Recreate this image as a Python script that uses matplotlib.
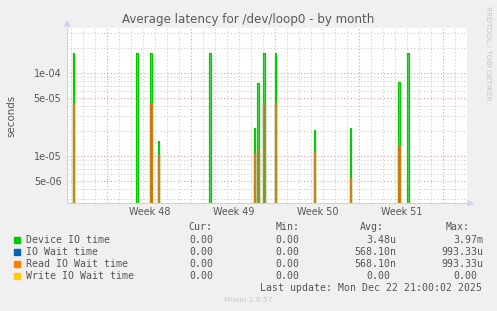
import numpy as np
import matplotlib
matplotlib.use("Agg")
import matplotlib.pyplot as plt
from matplotlib.ticker import FixedLocator, NullFormatter

# ---- data (x in days from graph start, 2h bins) ----
spike_days = [0.53, 5.85, 7.02, 7.61, 11.93, 15.61, 15.94, 16.44, 17.36,
              20.61, 23.61, 27.69, 28.44]
device_io = [1.71e-4, 1.71e-4, 1.71e-4, 1.50e-5, 1.71e-4, 2.16e-5, 7.6e-5,
             1.71e-4, 1.71e-4, 2.04e-5, 2.16e-5, 7.7e-5, 1.71e-4]
read_wait = [4.35e-5, 0, 4.35e-5, 1.02e-5, 0, 1.07e-5, 1.17e-5,
             4.35e-5, 4.3e-5, 1.14e-5, 5.4e-6, 1.31e-5, 0]
io_wait = list(read_wait)
write_wait = [0] * len(spike_days)

week_lines = [3.36, 10.36, 17.36, 24.36, 31.36]
week_labels = ["Week 48", "Week 49", "Week 50", "Week 51"]
ytick_vals = [5e-6, 1e-5, 5e-5, 1e-4]
ytick_labels = ["5e-06", "1e-05", "5e-05", "1e-04"]

series_names = ["Device IO time", "IO Wait time", "Read IO Wait time", "Write IO Wait time"]
series_colors = ["#00CC00", "#0066B3", "#FF8000", "#FFCC00"]
cur_vals = ["0.00", "0.00", "0.00", "0.00"]
min_vals = ["0.00", "0.00", "0.00", "0.00"]
avg_vals = ["3.48u", "568.10n", "568.10n", "0.00"]
max_vals = ["3.97m", "993.33u", "993.33u", "0.00"]

X_END = 33.333
Y_MIN, Y_MAX = 2.67e-6, 3.46e-4
FLOOR = 1e-8
BIN = 1.6 / 12


def spikes(days, vals):
    xs, ys = [], []
    for d, v in zip(days, vals):
        if v <= 0:
            continue
        x0, x1 = d - BIN / 2, d + BIN / 2
        xs += [x0, x0, x1, x1, np.nan]
        ys += [FLOOR, v, v, FLOOR, np.nan]
    return np.array(xs), np.array(ys)


W, H = 497, 311
fig = plt.figure(figsize=(W / 100, H / 100), dpi=100, facecolor="#F0F0F0")
ax = fig.add_axes([67 / W, 1 - 203.3 / H, 400 / W, 175.3 / H])
ax.set_facecolor("white")
ax.set_yscale("log")
ax.set_xlim(0, X_END)
ax.set_ylim(Y_MIN, Y_MAX)

# grid
grey = dict(color="#CCCCCC", linestyle=(0, (1, 2)), linewidth=0.8, zorder=0)
red = dict(color="#E09C9C", linestyle=(0, (1, 2)), linewidth=0.8, zorder=0)
for d in np.arange(0.36, X_END, 1.0):
    if min(abs(d - w) for w in week_lines) > 0.1:
        ax.axvline(d, **grey)
for w in week_lines:
    ax.axvline(w, **red)
for dec in [1e-6, 1e-5, 1e-4]:
    for m in range(2, 10):
        v = m * dec
        if Y_MIN < v < Y_MAX and m != 5:
            ax.axhline(v, **grey)
for v in ytick_vals:
    ax.axhline(v, **red)

# light fill inside each spike (antialiased look of rrdtool lines)
for d, v in zip(spike_days, device_io):
    ax.fill_between([d - BIN / 2, d + BIN / 2], FLOOR, v, color="#5AD85A",
                    lw=0, zorder=1)
for d, v in zip(spike_days, read_wait):
    if v > 0:
        ax.fill_between([d - BIN / 2, d + BIN / 2], FLOOR, v, color="#A8843C",
                        lw=0, zorder=1)

# series
for vals, col, a in [(device_io, series_colors[0], 1.0),
                     (io_wait, series_colors[1], 0.5),
                     (read_wait, series_colors[2], 0.8),
                     (write_wait, series_colors[3], 1.0)]:
    xs, ys = spikes(spike_days, vals)
    if len(xs):
        ax.plot(xs, ys, color=col, lw=0.9, alpha=a, solid_joinstyle="miter",
                zorder=2)

# axes styling
for s in ["top", "right"]:
    ax.spines[s].set_visible(False)
ax.spines["left"].set_color("#CCD4F4")
ax.spines["bottom"].set_color("#E2D49C")
ax.yaxis.set_major_locator(FixedLocator(ytick_vals))
ax.set_yticklabels(ytick_labels)
ax.yaxis.set_minor_formatter(NullFormatter())
ax.yaxis.set_minor_locator(FixedLocator([]))
mids = [(week_lines[i] + week_lines[i + 1]) / 2 for i in range(4)]
ax.set_xticks(mids)
ax.set_xticklabels(week_labels)
ax.tick_params(axis="both", length=0, labelsize=6.9, colors="#555555", pad=3)
ax.tick_params(axis="y", pad=4)
ax.set_ylabel("seconds", fontsize=7.4, color="#555555")
ax.yaxis.set_label_coords(-51 / 400, 0.5)

# arrows
fig.patches.append(matplotlib.patches.Polygon(
    [(64.5 / W, 1 - 26 / H), (69.5 / W, 1 - 26 / H), (67 / W, 1 - 21 / H)],
    closed=True, transform=fig.transFigure, color="#CCD4F4"))
fig.patches.append(matplotlib.patches.Polygon(
    [(468 / W, 1 - 200.8 / H), (468 / W, 1 - 205.8 / H), (473 / W, 1 - 203.3 / H)],
    closed=True, transform=fig.transFigure, color="#CCD4F4"))

fig.text(248 / W, 1 - 19 / H, "Average latency for /dev/loop0 - by month",
         ha="center", va="center", fontsize=8.6, color="#5A5A5A")
fig.text(488 / W, 1 - 53 / H, "RRDTOOL / TOBI OETIKER", rotation=270,
         ha="center", va="center", fontsize=5.3, color="#C4C4C4")

# legend block
mono = dict(family="DejaVu Sans Mono", fontsize=7.1, color="#555555", va="center")
fig.text(212.7 / W, 1 - 227.3 / H, "Cur:", ha="right", **mono)
fig.text(299.3 / W, 1 - 227.3 / H, "Min:", ha="right", **mono)
fig.text(384 / W, 1 - 227.3 / H, "Avg:", ha="right", **mono)
fig.text(470 / W, 1 - 227.3 / H, "Max:", ha="right", **mono)
row_y = [239.7, 251.7, 263.7, 275.7]
for i, name in enumerate(series_names):
    y = 1 - row_y[i] / H
    fig.patches.append(matplotlib.patches.Rectangle(
        (14 / W, y - 3 / H), 6 / W, 6 / H, transform=fig.transFigure,
        color=series_colors[i]))
    fig.text(26 / W, y, name, ha="left", **mono)
    for vals, xr in [(cur_vals, 219.3), (min_vals, 305.7), (avg_vals, 396.7), (max_vals, 483.3)]:
        s = vals[i]
        x = xr if s[-1].isalpha() else xr - 6
        fig.text(x / W, y, s, ha="right", **mono)
fig.text(482.3 / W, 1 - 287.7 / H, "Last update: Mon Dec 22 21:00:02 2025",
         ha="right", **mono)
fig.text(248 / W, 1 - 300 / H, "Munin 2.0.57", ha="center", va="center",
         fontsize=5.3, color="#C8C8C8")

fig.savefig("out.png", dpi=100, facecolor=fig.get_facecolor())
